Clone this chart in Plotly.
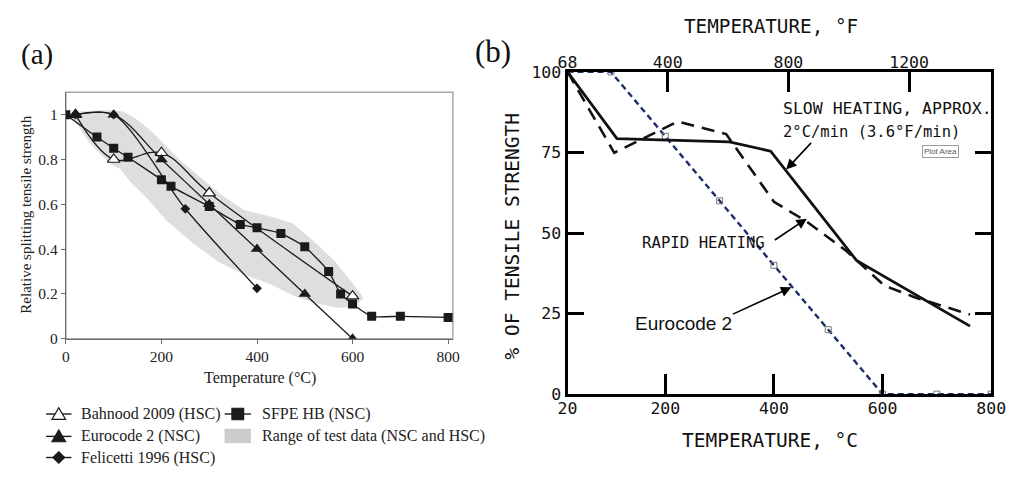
import plotly.graph_objects as go

W, H = 1022, 480


def px(x):
    return x / W


def py(y):
    return 1 - y / H


# ---------------- Panel (a) data ----------------
temp_bahnood = [20, 100, 200, 300, 600]
rel_bahnood = [1.0, 0.80, 0.83, 0.65, 0.19]

temp_ec2_a = [20, 100, 200, 300, 400, 500, 600]
rel_ec2_a = [1.0, 1.0, 0.80, 0.60, 0.40, 0.20, 0.0]

temp_felicetti = [20, 100, 250, 400]
rel_felicetti = [1.0, 1.0, 0.58, 0.225]

temp_sfpe = [0, 65, 100, 130, 200, 220, 300, 365, 400, 450, 500, 550, 575, 600, 640, 700, 800]
rel_sfpe = [1.0, 0.90, 0.85, 0.81, 0.71, 0.68, 0.59, 0.51, 0.495, 0.47, 0.41, 0.30, 0.20, 0.155, 0.10, 0.10, 0.095]

range_temp = [5, 26, 80, 121, 148, 182, 237, 285, 325, 373, 428, 475, 530, 564, 591, 618, 622,
              605, 570, 530, 482, 428, 373, 319, 264, 210, 169, 135, 114, 93, 74, 47, 26, 12]
range_rel = [1.0, 1.014, 1.02, 1.014, 0.98, 0.92, 0.80, 0.714, 0.643, 0.575, 0.545, 0.515, 0.414, 0.343, 0.271, 0.20, 0.18,
             0.14, 0.138, 0.155, 0.186, 0.243, 0.286, 0.343, 0.429, 0.529, 0.629, 0.70, 0.757, 0.78, 0.82, 0.88, 0.95, 0.99]

xa_ticks = [0, 200, 400, 600, 800]
ya_ticks = [0, 0.2, 0.4, 0.6, 0.8, 1.0]
ya_ticktext = ["0", "0.2", "0.4", "0.6", "0.8", "1"]

legend_col1 = ["Bahnood 2009 (HSC)", "Eurocode 2 (NSC)", "Felicetti 1996 (HSC)"]
legend_col2 = ["SFPE HB (NSC)", "Range of test data (NSC and HSC)"]

# ---------------- Panel (b) data ----------------
temp_slow = [20, 111, 318, 394, 552, 761]
pct_slow = [100, 79.3, 78.3, 75.4, 41.5, 21.1]

temp_rapid = [20, 106, 223, 312, 400, 460, 533, 603, 660, 761]
pct_rapid = [100, 74.9, 84.6, 80.7, 59.7, 53.6, 44.5, 33.7, 30.0, 24.7]

temp_ec2_b = [20, 100, 200, 300, 400, 500, 600, 700, 800]
pct_ec2_b = [100, 100, 80, 60, 40, 20, 0, 0, 0]

xb_ticks_c = [20, 200, 400, 600, 800]
xb_ticks_f = [68, 400, 800, 1200]
yb_ticks = [0, 25, 50, 75, 100]

SERIF = "Liberation Serif"
MONO = "DejaVu Sans Mono"
INK = "#1a1a1a"
RANGE_GRAY = "#dedede"

fig = go.Figure()

# ---- panel (a) traces ----
fig.add_trace(go.Scatter(
    x=range_temp, y=range_rel, fill="toself", fillcolor=RANGE_GRAY,
    line=dict(width=0, color=RANGE_GRAY), mode="lines",
    name=legend_col2[1], xaxis="x", yaxis="y", hoverinfo="skip"))

fig.add_trace(go.Scatter(
    x=temp_sfpe, y=rel_sfpe, mode="lines+markers", name=legend_col2[0],
    line=dict(color=INK, width=1.3, shape="spline", smoothing=0.5),
    marker=dict(symbol="square", size=9, color=INK), xaxis="x", yaxis="y"))

fig.add_trace(go.Scatter(
    x=temp_bahnood, y=rel_bahnood, mode="lines+markers", name=legend_col1[0],
    line=dict(color=INK, width=1.3, shape="spline", smoothing=1.0),
    marker=dict(symbol="triangle-up", size=11, color="white", line=dict(color=INK, width=1.2)),
    xaxis="x", yaxis="y"))

fig.add_trace(go.Scatter(
    x=temp_felicetti, y=rel_felicetti, mode="lines+markers", name=legend_col1[2],
    line=dict(color=INK, width=1.3, shape="spline", smoothing=0.8),
    marker=dict(symbol="diamond", size=7.5, color=INK), xaxis="x", yaxis="y"))

fig.add_trace(go.Scatter(
    x=temp_ec2_a, y=rel_ec2_a, mode="lines+markers", name=legend_col1[1],
    line=dict(color=INK, width=1.3, shape="spline", smoothing=1.0),
    marker=dict(symbol="triangle-up", size=11, color=INK), xaxis="x", yaxis="y"))

# ---- panel (b) traces ----
fig.add_trace(go.Scatter(
    x=temp_ec2_b, y=pct_ec2_b, mode="lines+markers", name="Eurocode 2",
    line=dict(color="#1c2f6b", width=2.4, dash="6px,4px"),
    marker=dict(symbol="square-open", size=6, color="#777777", line=dict(width=1)),
    xaxis="x2", yaxis="y2"))

fig.add_trace(go.Scatter(
    x=temp_slow, y=pct_slow, mode="lines", name="Slow heating",
    line=dict(color="#111111", width=2.8), xaxis="x2", yaxis="y2"))

fig.add_trace(go.Scatter(
    x=temp_rapid, y=pct_rapid, mode="lines", name="Rapid heating",
    line=dict(color="#111111", width=2.6, dash="13px,8px"), xaxis="x2", yaxis="y2"))

# invisible trace to activate the top °F axis
fig.add_trace(go.Scatter(
    x=[68, 1472], y=[None, None], mode="lines", xaxis="x3", yaxis="y2", hoverinfo="skip"))

axis_a = dict(showgrid=False, zeroline=False, showline=True, linecolor="#6a6a6a", linewidth=1.3,
              ticks="outside", ticklen=4, tickwidth=1.2, tickcolor="#6a6a6a",
              tickfont=dict(family=SERIF, size=15.5, color="#222"))
axis_b = dict(showgrid=False, zeroline=False, showline=True, linecolor="#000", linewidth=3,
              ticks="inside", tickwidth=2.5, tickcolor="#000",
              tickfont=dict(family=MONO, size=16.5, color="#111"))

# ---- hand-built legend for panel (a) (layout shapes + text) ----
shapes = [
    dict(type="rect", xref="x domain", yref="y domain", x0=0, x1=1, y0=0, y1=1,
         line=dict(color="#a8a8a8", width=1.5), layer="below"),
]


def seg(x0, x1, y):
    shapes.append(dict(type="line", xref="paper", yref="paper", x0=px(x0), x1=px(x1),
                       y0=py(y), y1=py(y), line=dict(color=INK, width=1.4)))


def poly(points, fill):
    path = "M " + " L ".join(f"{px(a):.5f},{py(b):.5f}" for a, b in points) + " Z"
    shapes.append(dict(type="path", xref="paper", yref="paper", path=path,
                       fillcolor=fill, line=dict(color=INK, width=1.2)))


def tri(cx, cy, s, fill):
    h = s * 0.87
    poly([(cx - s / 2, cy + h / 2), (cx + s / 2, cy + h / 2), (cx, cy - h / 2)], fill)


def diamond(cx, cy, s):
    poly([(cx, cy - s / 2), (cx + s / 2, cy), (cx, cy + s / 2), (cx - s / 2, cy)], INK)


def square(cx, cy, s):
    poly([(cx - s / 2, cy - s / 2), (cx + s / 2, cy - s / 2), (cx + s / 2, cy + s / 2),
          (cx - s / 2, cy + s / 2)], INK)


row_y = [421.7, 445, 467]
seg(37, 63, row_y[0]); tri(50, row_y[0] - 0.5, 14, "white")
seg(37, 63, row_y[1]); tri(50, row_y[1] - 0.5, 14, INK)
seg(37, 63, row_y[2]); diamond(50, row_y[2], 12)
seg(220, 247, row_y[0]); square(233.5, row_y[0], 12)
shapes.append(dict(type="rect", xref="paper", yref="paper", x0=px(220), x1=px(247),
                   y0=py(452), y1=py(437), fillcolor="#cccccc", line=dict(width=0)))

fig.update_layout(
    width=W, height=H, margin=dict(l=0, r=0, t=0, b=0),
    paper_bgcolor="white", plot_bgcolor="rgba(0,0,0,0)",
    showlegend=False,
    xaxis=dict(domain=[px(57.3), px(454)], range=[0, 810], tickvals=xa_ticks, anchor="y", **axis_a),
    yaxis=dict(domain=[py(343.3), py(86.7)], range=[0, 1.1], tickvals=ya_ticks, ticktext=ya_ticktext,
               anchor="x", **axis_a),
    xaxis2=dict(domain=[px(571.5), px(1005.8)], range=[20, 800], tickvals=xb_ticks_c, anchor="y2",
                mirror=True, ticklen=20, ticklabelstandoff=-3, **axis_b),
    yaxis2=dict(domain=[py(401), py(65.5)], range=[0, 100], tickvals=yb_ticks, anchor="x2",
                mirror="ticks", ticklen=16, **axis_b),
    xaxis3=dict(overlaying="x2", side="top", anchor="y2", range=[68, 1472], tickvals=xb_ticks_f,
                showgrid=False, zeroline=False, showline=False, ticks="inside", ticklen=20,
                tickwidth=2.5, tickcolor="#000",
                tickfont=dict(family=MONO, size=16.5, color="#111")),
    shapes=shapes,
)

annotations = []


def text_ann(text, x, y, size, family, xanchor="center", yanchor="middle", angle=0, color="#111"):
    annotations.append(dict(text=text, x=px(x), y=py(y), xref="paper", yref="paper",
                            xanchor=xanchor, yanchor=yanchor, showarrow=False, textangle=angle,
                            font=dict(family=family, size=size, color=color)))


def arrow_ann(tail, tip):
    annotations.append(dict(text="", x=px(tip[0]), y=py(tip[1]), xref="paper", yref="paper",
                            ax=tail[0] - tip[0], ay=tail[1] - tip[1], showarrow=True,
                            arrowhead=2, arrowsize=1.3, arrowwidth=1.6, arrowcolor="#000", standoff=0))


# legend texts
for label, yy in zip(legend_col1, row_y):
    text_ann(label, 71, yy, 16, SERIF, xanchor="left", color="#222")
for label, yy in zip(legend_col2, row_y[:2]):
    text_ann(label, 256, yy, 16, SERIF, xanchor="left", color="#222")

# panel labels
text_ann("(a)", 28, 47, 29, SERIF, color="#111")
text_ann("(b)", 495, 44, 31, SERIF, color="#111")

# panel (a) axis titles
text_ann("Relative splitting tensile strength", 15.5, 214, 15, SERIF, angle=-90, color="#222")
text_ann("Temperature (°C)", 256, 384, 16, SERIF, color="#222")

# panel (b) axis titles
text_ann("TEMPERATURE, °F", 780, 18.5, 19.3, MONO)
text_ann("TEMPERATURE, °C", 779, 449, 19.5, MONO)
text_ann("% OF TENSILE STRENGTH", 515, 236.5, 19.5, MONO, angle=-90)

# panel (b) notes
text_ann("SLOW HEATING, APPROX.", 790, 104, 16.5, MONO, xanchor="left")
text_ann("2°C/min (3.6°F/min)", 790, 128, 15.5, MONO, xanchor="left")
text_ann("RAPID HEATING", 711, 243, 15.7, MONO)
text_ann("Eurocode 2", 690, 327, 19, "Liberation Sans")
annotations.append(dict(text="Plot Area", x=px(973), y=py(141.5), xref="paper", yref="paper",
                        showarrow=False, font=dict(family="Liberation Sans", size=8, color="#555"),
                        bgcolor="white", bordercolor="#9a9a9a", borderwidth=1, borderpad=1))

arrow_ann((822, 139), (795.6, 167.2))
arrow_ann((783.3, 240.6), (816.8, 218.3))
arrow_ann((741, 317.3), (800.9, 289.8))

fig.update_layout(annotations=annotations)

fig.write_html("out.html")
